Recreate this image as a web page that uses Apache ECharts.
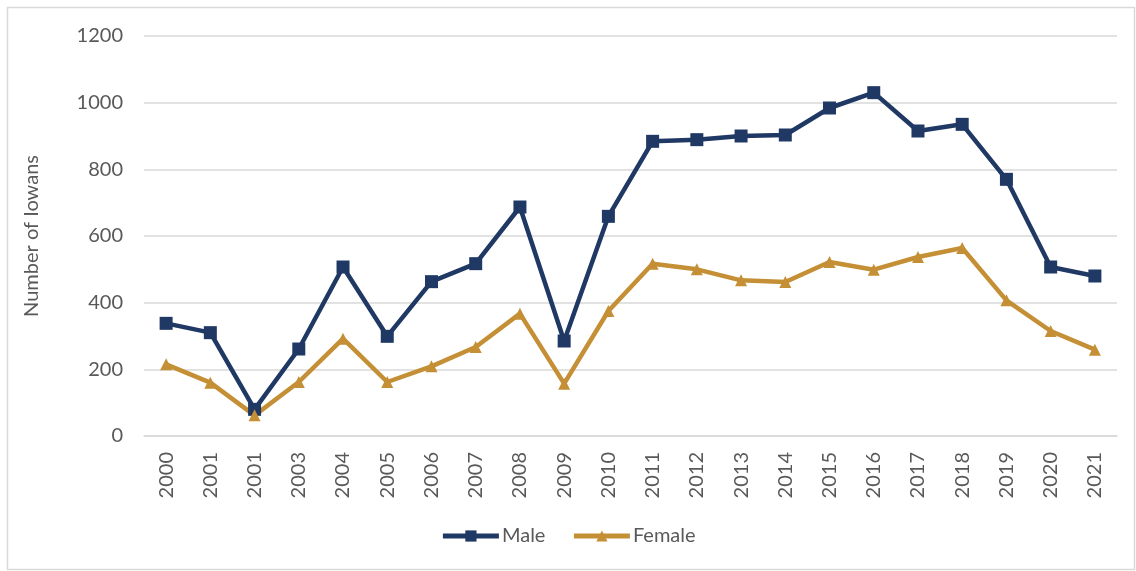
<!DOCTYPE html>
<html>
<head>
<meta charset="utf-8">
<script src="https://cdn.jsdelivr.net/npm/echarts@6/dist/echarts.min.js"></script>
<style>
html,body{margin:0;padding:0;background:#fff;}
#c{width:1136px;height:571px;}
</style>
</head>
<body>
<div id="c"></div>
<script>
const years = ['2000','2001','2001','2003','2004','2005','2006','2007','2008','2009','2010','2011','2012','2013','2014','2015','2016','2017','2018','2019','2020','2021'];
const male = [338,310,80,261,507,299,463,517,687,285,659,884,889,900,903,984,1030,915,935,770,507,480];
const female = [215,160,62,162,292,162,209,267,367,157,375,517,500,467,462,522,499,537,564,407,315,259];
const yTicks = [0,200,400,600,800,1000,1200];

const font = 'Lato, "Open Sans", sans-serif';
const chart = echarts.init(document.getElementById('c'));
chart.setOption({
  animation: false,
  backgroundColor: '#fff',
  graphic: [{
    type: 'rect', left: 5, top: 5,
    shape: {width: 1127, height: 562},
    style: {fill: 'none', stroke: '#d9d9d9', lineWidth: 1.5},
    silent: true
  }],
  grid: {left: 144, right: 19, top: 36, bottom: 135},
  legend: {
    bottom: 20, left: 'center',
    itemWidth: 56, itemHeight: 14, itemGap: 26,
    lineStyle: {width: 5},
    textStyle: {color: '#595959', fontSize: 20, fontFamily: font, padding: [0, 0, 0, -2]},
    data: ['Male', 'Female']
  },
  xAxis: {
    type: 'category',
    data: years,
    boundaryGap: true,
    axisLine: {show: true, lineStyle: {color: '#d9d9d9', width: 1.5}},
    axisTick: {show: false},
    axisLabel: {rotate: 90, interval: 0, color: '#595959', fontSize: 20, fontFamily: font, margin: 16}
  },
  yAxis: {
    type: 'value',
    min: yTicks[0], max: yTicks[yTicks.length - 1], interval: 200,
    name: 'Number of Iowans',
    nameLocation: 'middle', nameGap: 102, nameRotate: 90,
    nameTextStyle: {color: '#595959', fontSize: 20, fontFamily: font},
    axisLine: {show: false},
    axisTick: {show: false},
    axisLabel: {color: '#595959', fontSize: 20, fontFamily: font, margin: 21, formatter: v => String(v)},
    splitLine: {lineStyle: {color: '#d9d9d9', width: 1.5}}
  },
  series: [
    {
      name: 'Male', type: 'line', data: male,
      symbol: 'rect', symbolSize: 13,
      lineStyle: {color: '#1f3864', width: 4.5},
      itemStyle: {color: '#1f3864'}
    },
    {
      name: 'Female', type: 'line', data: female,
      symbol: 'triangle', symbolSize: 12,
      lineStyle: {color: '#c48f35', width: 4.5},
      itemStyle: {color: '#c48f35'}
    }
  ]
});
</script>
</body>
</html>
